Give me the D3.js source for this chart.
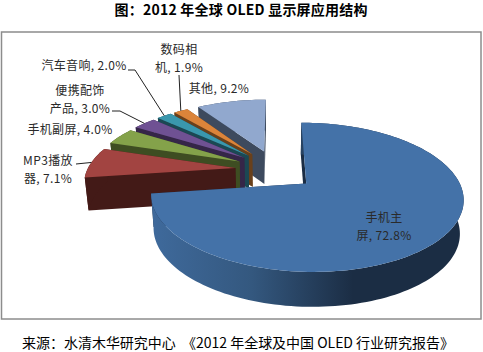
<!DOCTYPE html>
<html>
<head>
<meta charset="utf-8">
<script src="https://cdn.jsdelivr.net/npm/d3@7"></script>
<style>
  html, body { margin: 0; background: #fff; }
  text { font-family: "Noto Sans CJK SC", sans-serif; }
</style>
</head>
<body>
<div id="chart"></div>
<script>
const categories = ["手机主屏", "MP3播放器", "手机副屏", "便携配饰产品", "汽车音响", "数码相机", "其他"];
const shares = [72.8, 7.1, 4.0, 3.0, 2.0, 1.9, 9.2];
const titleText = "图：2012 年全球 OLED 显示屏应用结构";
const sourceText = "来源：水清木华研究中心  《2012 年全球及中国 OLED 行业研究报告》";

const topColors = ["#4472a8", "#a24441", "#84a24a", "#6f5193", "#3a97ad", "#db843a", "#91a8ce"];
const wallColors = ["#1b2d44", "#431a17", "#3e4d22", "#352648", "#1b4853", "#69401b", "#3d4a5e"];

// label lines and where they sit, leader = elbow points running up to the slice
const labelLayout = [
  { lines: ["手机主", "屏, 72.8%"], x: 384, y: 222 },
  { lines: ["MP3播放", "器, 7.1%"], x: 48, y: 165, leader: [[76, 164]], hit: [0.5, 1.0] },
  { lines: ["手机副屏, 4.0%"], x: 70, y: 134 },
  { lines: ["便携配饰", "产品, 3.0%"], x: 80, y: 95, leader: [[112, 111], [120, 111]], hit: [0.5, 1.0] },
  { lines: ["汽车音响, 2.0%"], x: 84, y: 70, leader: [[128, 70], [135, 70]], hit: [0.5, 1.0] },
  { lines: ["数码相", "机, 1.9%"], x: 179, y: 54, leader: [[179, 75]], hit: [0.5, 1.0] },
  { lines: ["其他, 9.2%"], x: 219, y: 93 }
];

const width = 483, height = 352;
const svg = d3.select("#chart").append("svg")
  .attr("width", width)
  .attr("height", height)
  .style("display", "block");

// perspective disc: everything is worked out on a unit disc and then projected
const cx = 275, cy = 169.7, rx = 148, ry = 67, persp = 0.18;
const explodeX = 0.27, explodeY = 0.3;

function project(u, v) {
  const w = 1 - persp * v;
  return [cx + rx * u / w, cy + ry * v / w];
}

function topPoint(d, angle, r) {
  const mid = (d.startAngle + d.endAngle) / 2;
  return {
    u: explodeX * Math.sin(mid) + r * Math.sin(angle),
    v: -explodeY * Math.cos(mid) - r * Math.cos(angle)
  };
}

const topXY = p => project(p.u, p.v);
function baseXY(p) {
  const [x, y] = project(p.u, p.v);
  return [cx + (x - cx) * 0.98, y + 33 + 1.6 * p.v];
}

const slices = d3.pie().sort(null).value(d => d)(shares)
  .map((d, i) => ({ ...d, index: i, name: categories[i] }));

const line = d3.line();
const poly = pts => line(pts) + "Z";

function arcPoints(d) {
  const n = Math.max(6, Math.ceil((d.endAngle - d.startAngle) / 0.03));
  return d3.range(n + 1).map(i =>
    topPoint(d, d.startAngle + (d.endAngle - d.startAngle) * i / n, 1));
}

const defs = svg.append("defs");
const mainWall = defs.append("linearGradient")
  .attr("id", "mainWall")
  .attr("gradientUnits", "userSpaceOnUse")
  .attr("x1", 150).attr("x2", 440).attr("y1", 0).attr("y2", 0);
mainWall.append("stop").attr("offset", 0).attr("stop-color", "#3f6a9c");
mainWall.append("stop").attr("offset", 0.35).attr("stop-color", "#34587f");
mainWall.append("stop").attr("offset", 0.7).attr("stop-color", "#1b2d44");

const pieG = svg.append("g");

// back slices first, the big front slice last
const order = [6, 5, 4, 3, 2, 1, 0];
order.forEach(i => {
  const d = slices[i];
  const g = pieG.append("g").attr("data-name", d.name);
  const apex = topPoint(d, 0, 0);
  const arc = arcPoints(d);
  const first = arc[0], last = arc[arc.length - 1];
  const wall = i === 0 ? "url(#mainWall)" : wallColors[i];

  g.append("path")
    .attr("d", poly([topXY(apex), topXY(last), baseXY(last), baseXY(apex)]))
    .attr("fill", wallColors[i]);
  g.append("path")
    .attr("d", poly([topXY(apex), topXY(first), baseXY(first), baseXY(apex)]))
    .attr("fill", wallColors[i]);
  g.append("path")
    .attr("d", poly([...arc.map(topXY), ...arc.slice().reverse().map(baseXY)]))
    .attr("fill", wall);
  g.append("path")
    .attr("d", poly([topXY(apex), ...arc.map(topXY)]))
    .attr("fill", topColors[i]);
});

// chart frame
svg.append("rect")
  .attr("x", 1.5).attr("y", 32)
  .attr("width", 479.5).attr("height", 287)
  .attr("fill", "none")
  .attr("stroke", "#8c8c8c")
  .attr("stroke-width", 1.5);

// leaders
labelLayout.forEach((l, i) => {
  if (!l.leader) return;
  const d = slices[i];
  const angle = d.startAngle + (d.endAngle - d.startAngle) * l.hit[0];
  const end = topXY(topPoint(d, angle, l.hit[1]));
  svg.append("path")
    .attr("d", line([...l.leader, end]))
    .attr("fill", "none")
    .attr("stroke", "#222")
    .attr("stroke-width", 1);
});

// labels
labelLayout.forEach(l => {
  const t = svg.append("text")
    .attr("text-anchor", "middle")
    .attr("font-size", 12)
    .attr("letter-spacing", 0.35)
    .attr("fill", "#2a2a2a");
  l.lines.forEach((s, j) => {
    t.append("tspan").attr("x", l.x).attr("y", l.y + j * 17.6).text(s);
  });
});

svg.append("text")
  .attr("x", 241).attr("y", 15)
  .attr("text-anchor", "middle")
  .attr("font-size", 14)
  .attr("font-weight", "bold")
  .attr("fill", "#000")
  .attr("textLength", 253)
  .text(titleText);

svg.append("text")
  .attr("x", 238).attr("y", 348)
  .attr("text-anchor", "middle")
  .attr("font-size", 14)
  .attr("fill", "#000")
  .attr("textLength", 432)
  .style("white-space", "pre")
  .text(sourceText);
</script>
</body>
</html>
